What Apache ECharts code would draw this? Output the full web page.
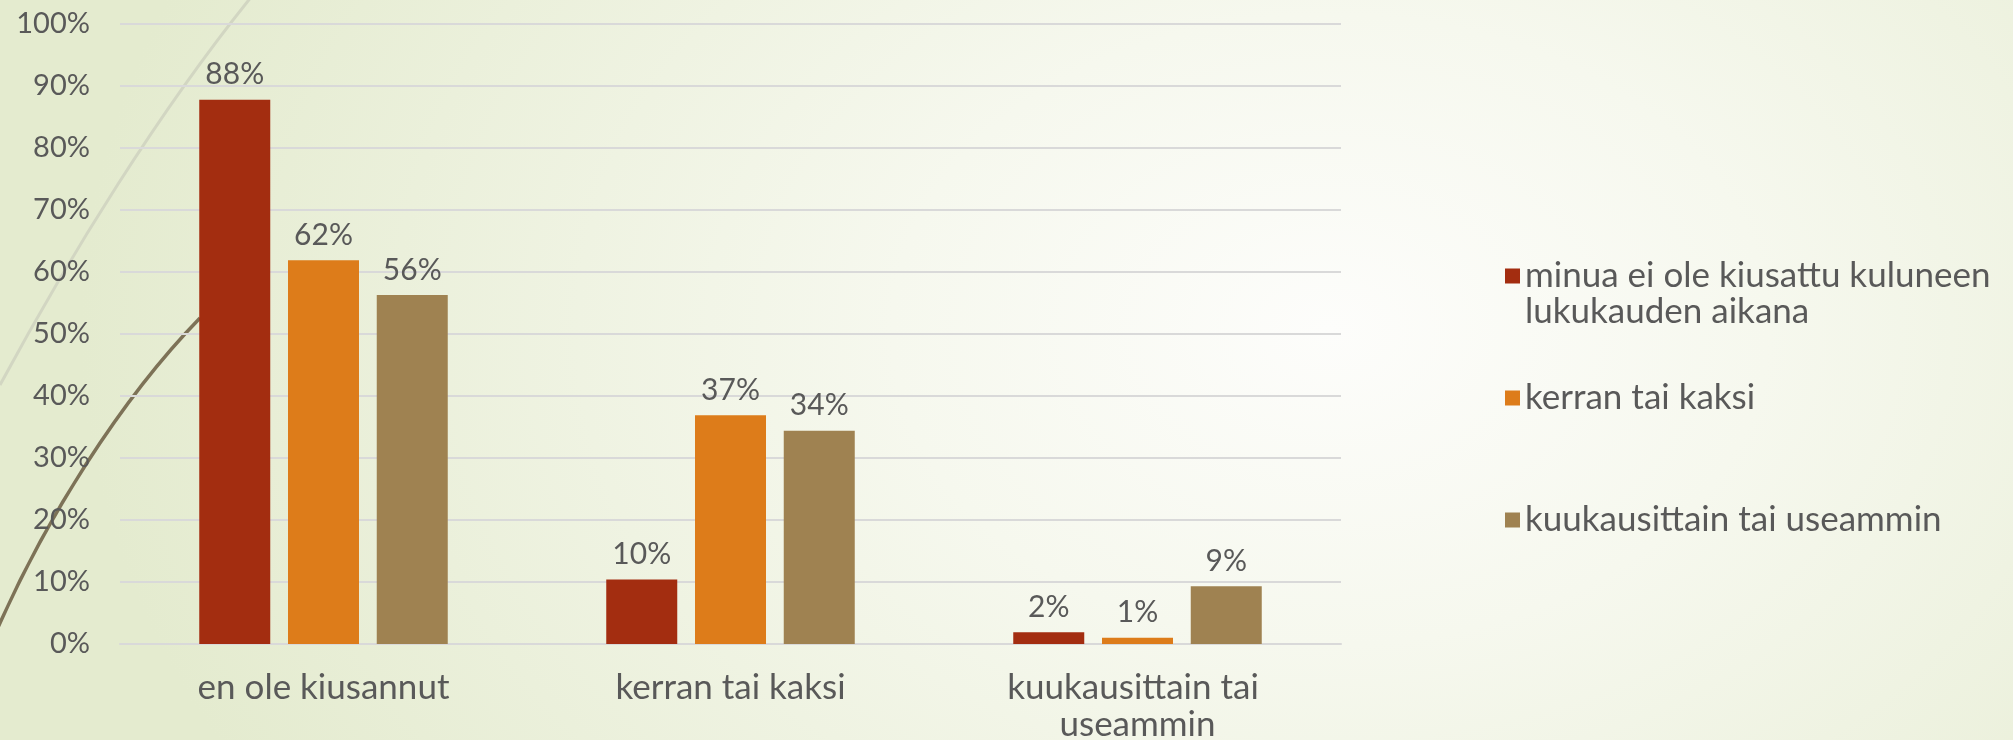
<!DOCTYPE html>
<html>
<head>
<meta charset="utf-8">
<script src="https://cdn.jsdelivr.net/npm/echarts@6/dist/echarts.min.js"></script>
<style>
  html, body { margin: 0; padding: 0; }
  body {
    width: 2013px; height: 740px; overflow: hidden;
    background: radial-gradient(ellipse 1250px 900px at 1330px 330px, #fdfdfb 0%, #f6f8ee 35%, #e4ebcf 100%);
  }
  #chart { width: 2013px; height: 740px; }
</style>
</head>
<body>
<div id="chart"></div>
<script>
// kategoriat ja sarjat
var categories = ['en ole kiusannut', 'kerran tai kaksi', 'kuukausittain tai useammin'];
var seriesNames = ['minua ei ole kiusattu kuluneen\nlukukauden aikana', 'kerran tai kaksi', 'kuukausittain tai useammin'];
var seriesMinua = [87.8, 10.4, 1.9];
var seriesKerran = [61.9, 36.9, 1.0];
var seriesKuukausittain = [56.3, 34.4, 9.3];
var yTicks = [0, 10, 20, 30, 40, 50, 60, 70, 80, 90, 100];

var colors = ['#a32d10', '#dd7c1a', '#9f8251'];
var textColor = '#595959';
var fontFam = 'Lato, "Open Sans", sans-serif';

var chart = echarts.init(document.getElementById('chart'));

function makeSeries(name, data, color) {
    return {
        name: name,
        type: 'bar',
        data: data,
        barWidth: 71,
        barGap: '25%',
        itemStyle: { color: color },
        label: {
            show: true,
            position: 'top',
            distance: 10,
            color: textColor,
            fontSize: 30,
            fontFamily: fontFam,
            formatter: function (p) { return Math.round(p.value) + '%'; }
        },
        z: 3
    };
}

function makeLegend(name, top, extraLine) {
    return {
        data: [name],
        orient: 'vertical',
        left: 1505,
        top: top,
        padding: 0,
        itemWidth: 15,
        itemHeight: 15,
        icon: 'rect',
        selectedMode: false,
        // monirivinen nimi: tyhjä rivi alkuun, jotta neliö osuu ensimmäiselle riville
        formatter: function (n) { return extraLine ? '\n' + n : n; },
        textStyle: {
            color: textColor,
            fontSize: 35,
            fontFamily: fontFam,
            lineHeight: 36
        }
    };
}

var option = {
    backgroundColor: 'transparent',
    animation: false,
    color: colors,
    graphic: [{
        type: 'bezierCurve',
        z: -10,
        shape: { x1: 0, y1: 385, cpx1: 70, cpy1: 255, cpx2: 160, cpy2: 110, x2: 252, y2: -4 },
        style: { stroke: '#d2d6c2', lineWidth: 3, fill: null }
    }, {
        type: 'bezierCurve',
        z: -10,
        shape: { x1: -4, y1: 632, cpx1: 45, cpy1: 520, cpx2: 120, cpy2: 400, x2: 200, y2: 318 },
        style: { stroke: '#7d7257', lineWidth: 3.5, fill: null }
    }],
    grid: {
        left: 120,
        right: 672,
        top: 24,
        bottom: 96,
        containLabel: false,
        outerBoundsMode: 'none'
    },
    legend: [
        makeLegend(seriesNames[0], 222, true),
        makeLegend(seriesNames[1], 380, false),
        makeLegend(seriesNames[2], 502, false)
    ],
    xAxis: {
        type: 'category',
        data: categories,
        axisLine: { show: true, lineStyle: { color: '#d9d9d9', width: 2 } },
        axisTick: { show: false },
        axisLabel: {
            color: textColor,
            fontSize: 35,
            fontFamily: fontFam,
            margin: 25,
            lineHeight: 37,
            width: 300,
            overflow: 'break',
            interval: 0
        }
    },
    yAxis: {
        type: 'value',
        min: yTicks[0],
        max: yTicks[yTicks.length - 1],
        interval: 10,
        axisLine: { show: false },
        axisTick: { show: false },
        axisLabel: {
            color: textColor,
            fontSize: 29,
            fontFamily: fontFam,
            margin: 30,
            formatter: '{value}%'
        },
        splitLine: { lineStyle: { color: '#d9d9d9', width: 2 } }
    },
    series: [
        makeSeries(seriesNames[0], seriesMinua, colors[0]),
        makeSeries(seriesNames[1], seriesKerran, colors[1]),
        makeSeries(seriesNames[2], seriesKuukausittain, colors[2])
    ]
};

chart.setOption(option);
</script>
</body>
</html>
